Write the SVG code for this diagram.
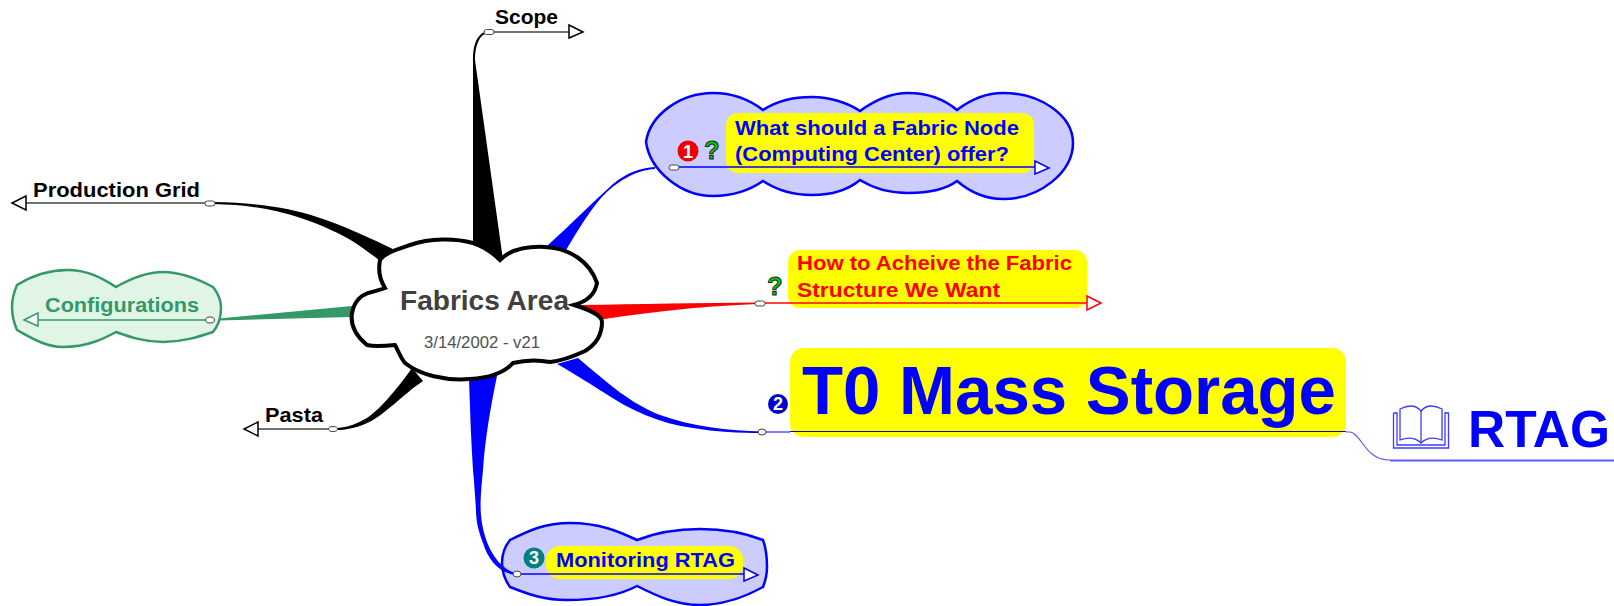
<svg xmlns="http://www.w3.org/2000/svg" width="1614" height="606" viewBox="0 0 1614 606">
<style>
text{font-family:"Liberation Sans",Arial,sans-serif;font-weight:bold}
.k{font-size:21px;fill:#000}
.b{font-size:21px;fill:#0000ff}
.r{font-size:21px;fill:#ff0000}
.y{fill:#ffff00}
.ov{fill:#fff;stroke:#444;stroke-width:1}
.ar{fill:#fff;stroke-width:1.5}
.bc{fill:#ccccff;stroke:#0000ff;stroke-width:2.5}
.n{font-size:18px;fill:#fff;text-anchor:middle}
.q{font-size:25px;fill:#00cc00;stroke:#222;stroke-width:1;text-anchor:middle}
</style>
<rect width="1614" height="606" fill="#fff"/>
<g id="shapes-back">
<path id="cloud-q1" class="bc" d="M646 142C650 115 680 93 713 93C735 93 750 100 763 110C778 100 795 97 812 97C830 97 848 103 860 111C875 100 890 93 908 93C928 93 945 100 957 110C970 100 985 93 1003 93C1040 93 1073 115 1073 143C1073 172 1040 199 1003 199C985 199 970 192 957 181C945 190 928 193 908 193C890 193 873 188 860 180C848 190 830 195 812 195C795 195 778 191 763 181C750 190 735 196 713 196C680 196 650 170 646 142Z"/>
<path id="cloud-mon" class="bc" d="M502 563C502 553 506 545 510 540C530 530 545 523 570 523C600 523 620 532 637 540C655 533 675 529 700 529C725 529 745 533 763 540C766 548 767 557 767 567C767 575 765 582 763 587C745 597 725 605 700 605C675 605 655 595 637 586C620 595 600 600 567 600C545 600 530 595 510 587C505 580 502 572 502 563Z"/>
<path id="cloud-conf" d="M12 307C12 298 14 292 17 285C30 277 47 270 67 270C90 270 105 280 116 287C130 279 145 272 163 272C182 272 198 279 213 287C218 293 221 300 221 308C221 318 218 326 213 332C198 337 182 342 163 342C145 342 130 337 116 332C105 338 88 347 63 347C45 347 30 337 17 330C14 323 12 315 12 307Z" fill="#e0f5e6" stroke="#339966" stroke-width="2.5"/>
</g>
<g id="connectors">
<path d="M473 260V60C473 45 477 32 489 31V33C480 33 475 45 475 60L503 260Z" fill="#000"/>
<path d="M213 202C260 203 290 208 317 217C345 226 370 238 395 250L380 261C360 245 345 236 333 231C305 218 270 205 213 204Z" fill="#000"/>
<path d="M219 318.500L352 306V317L219 320.500Z" fill="#339966"/>
<path d="M337 428C350 427 358 423 367 418C378 411 395 392 412 368L423 381C410 390 405 395 400 399C385 412 375 420 365 424C355 428 345 430 337 430Z" fill="#000"/>
<path d="M655 167C640 168 628 172 613 184C590 205 570 225 547 246L565 252C575 235 590 210 602 197C615 183 635 170 655 169Z" fill="#0000ff"/>
<path d="M757 302.500C700 303 640 304 580 305L585 322C625 316 680 307 757 304Z" fill="#ff0000"/>
<path d="M762 431.500C730 431 690 426 660 415C630 403 610 385 578 358L557 364C580 377 590 384 603 392C630 410 660 424 693 428C715 432 740 433 762 433Z" fill="#0000ff"/>
<path d="M469 378L497 376C490 410 485 440 483 470C481 490 480 505 481 515C483 540 495 568 517 573.500V575C500 574 488 560 483 543C478 530 476 520 476 510C475 495 474 480 473 470C471 440 470 410 469 378Z" fill="#0000ff"/>
<path d="M1346 432H1350C1358 433 1362 446 1372 454C1378 459 1383 460 1390 460" fill="none" stroke="#5a5af5" stroke-width="1.2"/>
<path d="M1390 460.500H1614" fill="none" stroke="#5a5af5" stroke-width="2"/>
</g>
<g id="node-center">
<path d="M380 260C385 253 395 250 410 245C430 238 455 238 473 243C482 246 492 252 500 260C510 250 525 246 545 247C570 248 590 262 597 283C595 295 585 302 574 305C590 310 602 315 602 322C602 335 595 345 585 351C570 358 560 361 550 362C540 360 525 360 513 363C505 372 490 378 470 379C445 381 420 375 405 363C400 357 398 350 395 345C385 346 375 347 367 345C355 335 350 325 352 313C354 302 360 296 368 293C375 291 380 290 385 288C380 280 378 270 380 260Z" fill="#fff" stroke="#000" stroke-width="4"/>
<text x="400" y="310" textLength="169" lengthAdjust="spacingAndGlyphs" style="font-size:27.500px" fill="#404040">Fabrics Area</text>
<text x="424" y="348" textLength="116" lengthAdjust="spacingAndGlyphs" style="font-weight:normal;font-size:17px" fill="#505050">3/14/2002 - v21</text>
</g>
<g id="node-scope">
<path d="M489 32H569" stroke="#444" stroke-width="1.5" fill="none"/>
<path class="ar" d="M569 25L583 32L569 38Z" stroke="#000"/>
<rect class="ov" x="484" y="29.500" width="10" height="5" rx="2.500"/>
<text class="k" x="495" y="24" textLength="63" lengthAdjust="spacingAndGlyphs">Scope</text>
</g>
<g id="node-production">
<path d="M26 203H210" stroke="#444" stroke-width="1.5" fill="none"/>
<path class="ar" d="M26 196L12 203L26 210Z" stroke="#000"/>
<rect class="ov" x="205" y="201" width="10" height="5" rx="2.500"/>
<text class="k" x="33" y="197" textLength="167" lengthAdjust="spacingAndGlyphs">Production Grid</text>
</g>
<g id="node-configurations">
<path d="M38 320H210" stroke="#339966" stroke-width="1.5" fill="none"/>
<path class="ar" d="M38 313L24 320L38 326Z" stroke="#339966"/>
<ellipse class="ov" cx="210" cy="320" rx="4.500" ry="3"/>
<text x="45" y="312" textLength="154" lengthAdjust="spacingAndGlyphs" style="font-size:21px" fill="#339966">Configurations</text>
</g>
<g id="node-pasta">
<path d="M258 429H333" stroke="#444" stroke-width="1.500" fill="none"/>
<path class="ar" d="M258 422L244 429L258 436Z" stroke="#000"/>
<ellipse class="ov" cx="333" cy="429" rx="4.500" ry="2.500"/>
<text class="k" x="265" y="422" textLength="58" lengthAdjust="spacingAndGlyphs">Pasta</text>
</g>
<g id="node-fabric-q">
<rect class="y" x="726" y="113" width="308" height="60" rx="12"/>
<path d="M673 167H1035" stroke="#0000ff" stroke-width="1.500" fill="none"/>
<path class="ar" d="M1035 161L1049 168L1035 174Z" stroke="#0000ff"/>
<rect class="ov" x="669" y="165" width="10" height="5" rx="2.500"/>
<circle cx="688" cy="151" r="10.500" fill="#ee0000"/><text class="n" x="688" y="157.500">1</text>
<text class="q" x="712" y="159">?</text>
<text class="b" x="735" y="135" textLength="284" lengthAdjust="spacingAndGlyphs">What should a Fabric Node</text>
<text class="b" x="735" y="161" textLength="274" lengthAdjust="spacingAndGlyphs">(Computing Center) offer?</text>
</g>
<g id="node-how">
<rect class="y" x="788" y="250" width="299" height="58" rx="12"/>
<path d="M760 303H1087" stroke="#ff0000" stroke-width="1.500" fill="none"/>
<path class="ar" d="M1087 296L1101 303L1087 310Z" stroke="#ff0000"/>
<rect class="ov" x="755" y="301" width="10" height="5" rx="2.500"/>
<text class="q" x="775" y="295">?</text>
<text class="r" x="797" y="270" textLength="275" lengthAdjust="spacingAndGlyphs">How to Acheive the Fabric</text>
<text class="r" x="797" y="297" textLength="203" lengthAdjust="spacingAndGlyphs">Structure We Want</text>
</g>
<g id="node-t0">
<rect class="y" x="790" y="348" width="556" height="89" rx="14"/>
<path d="M762 432H790" stroke="#0000ff" stroke-width="1" fill="none"/>
<path d="M790 431.500H1346" stroke="#11116a" stroke-width="1.200" fill="none"/>
<ellipse class="ov" cx="762" cy="432" rx="4" ry="3"/>
<circle cx="778" cy="404" r="10" fill="#0000cc"/><text class="n" x="778" y="410">2</text>
<text x="802" y="414" textLength="534" lengthAdjust="spacingAndGlyphs" style="font-size:68px" fill="#0000ff">T0 Mass Storage</text>
</g>
<g id="node-rtag">
<g fill="none" stroke="#3c3cff" stroke-width="1.300">
<path d="M1400 409C1408 405 1416 405 1421 411C1426 405 1434 405 1442 409V440C1434 437 1426 438 1421 443C1416 438 1408 437 1400 440Z"/>
<path d="M1421 411V443"/>
<path d="M1397 412V445H1445V412"/>
<path d="M1393.500 413V448H1448.500V413H1445M1393.500 413H1397"/>
</g>
<text x="1468" y="447" textLength="142" lengthAdjust="spacingAndGlyphs" style="font-size:52px" fill="#0000ff">RTAG</text>
</g>
<g id="node-monitoring">
<rect class="y" x="546" y="546" width="197" height="33" rx="14"/>
<path d="M517 574H744" stroke="#0000ff" stroke-width="1.500" fill="none"/>
<path class="ar" d="M744 568L758 575L744 581Z" stroke="#0000ff"/>
<ellipse class="ov" cx="517" cy="574" rx="4" ry="3"/>
<circle cx="534" cy="558" r="10.500" fill="#008080"/><text class="n" x="534" y="564">3</text>
<text class="b" x="556" y="567" textLength="179" lengthAdjust="spacingAndGlyphs">Monitoring RTAG</text>
</g>
</svg>
